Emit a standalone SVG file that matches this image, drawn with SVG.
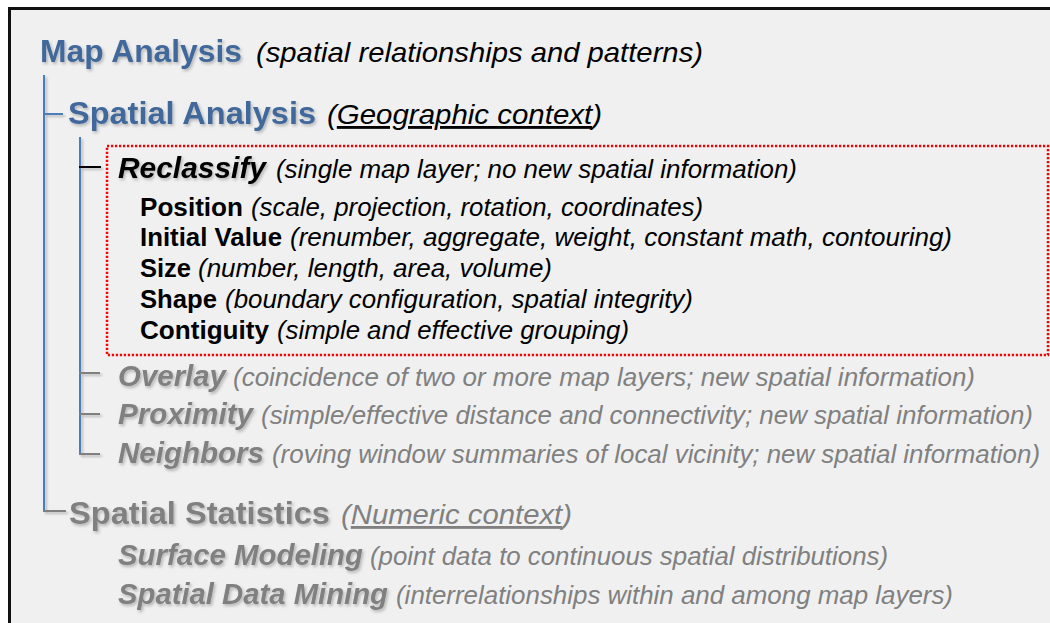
<svg xmlns="http://www.w3.org/2000/svg" width="1050" height="623" viewBox="0 0 1050 623">
<defs>
<filter id="sh" x="-5%" y="-20%" width="115%" height="160%">
<feDropShadow dx="1.5" dy="2" stdDeviation="1.5" flood-color="#000" flood-opacity="0.25"/>
</filter>
<filter id="lsh" x="-50%" y="-5%" width="300%" height="115%">
<feDropShadow dx="2" dy="2" stdDeviation="1" flood-color="#000" flood-opacity="0.22"/>
</filter>
<style>
text{font-family:"Liberation Sans",Arial,sans-serif;}
.h1{font-weight:bold;fill:#41689B;filter:url(#sh);}
.hk{font-weight:bold;font-style:italic;fill:#000;filter:url(#sh);}
.hb{font-weight:bold;fill:#000;}
.hg{font-weight:bold;font-style:italic;fill:#808080;filter:url(#sh);}
.hgs{font-weight:bold;fill:#808080;filter:url(#sh);}
.dk{font-style:italic;fill:#000;}
.dg{font-style:italic;fill:#808080;}
.u{text-decoration:underline;}
.lb{stroke:#4A7EBB;stroke-width:2;fill:none;}
.lk{stroke:#000;stroke-width:2;fill:none;}
.lg{stroke:#808080;stroke-width:2;fill:none;}
</style>
</defs>
<rect x="0" y="0" width="1050" height="623" fill="#fff"/>
<rect x="9.5" y="8.5" width="1060" height="630" fill="#F0F0F0" stroke="#111" stroke-width="3"/>

<g id="connectors" filter="url(#lsh)">
<line class="lb" x1="44" y1="75" x2="44" y2="511"/>
<line class="lb" x1="43" y1="114" x2="63" y2="114"/>
<line class="lg" x1="43" y1="511" x2="66" y2="511"/>
<line class="lb" x1="80" y1="137" x2="80" y2="454"/>
<line class="lk" x1="79" y1="167" x2="101" y2="167"/>
<line class="lg" x1="79" y1="373" x2="100" y2="373"/>
<line class="lg" x1="79" y1="414" x2="100" y2="414"/>
<line class="lg" x1="79" y1="454" x2="100" y2="454"/>
</g>

<g id="reclassify-box">
<rect x="107" y="146" width="941" height="209" fill="none" stroke="#FF0000" stroke-width="2.5" stroke-dasharray="2.2 1.8"/>
</g>

<g id="map-analysis">
<text class="h1" x="40" y="62" font-size="31.5" textLength="202" lengthAdjust="spacingAndGlyphs">Map Analysis</text>
<text class="dk" x="256" y="62" font-size="28" textLength="447" lengthAdjust="spacingAndGlyphs">(spatial relationships and patterns)</text>
</g>

<g id="spatial-analysis">
<text class="h1" x="68" y="124" font-size="32" textLength="248" lengthAdjust="spacingAndGlyphs">Spatial Analysis</text>
<text class="dk" x="327" y="124" font-size="28.5" textLength="275" lengthAdjust="spacingAndGlyphs">(<tspan class="u">Geographic context</tspan>)</text>
</g>

<g id="reclassify">
<text class="hk" x="118" y="178" font-size="29.5" textLength="148" lengthAdjust="spacingAndGlyphs">Reclassify</text>
<text class="dk" x="276" y="178" font-size="26" textLength="521" lengthAdjust="spacingAndGlyphs">(single map layer; no new spatial information)</text>
</g>

<g id="position">
<text class="hb" x="140" y="216" font-size="26" textLength="103" lengthAdjust="spacingAndGlyphs">Position</text>
<text class="dk" x="251" y="216" font-size="26" textLength="452" lengthAdjust="spacingAndGlyphs">(scale, projection, rotation, coordinates)</text>
</g>

<g id="initial-value">
<text class="hb" x="140" y="246" font-size="26" textLength="142" lengthAdjust="spacingAndGlyphs">Initial Value</text>
<text class="dk" x="290" y="246" font-size="26" textLength="662" lengthAdjust="spacingAndGlyphs">(renumber, aggregate, weight, constant math, contouring)</text>
</g>

<g id="size">
<text class="hb" x="140" y="277" font-size="26" textLength="51" lengthAdjust="spacingAndGlyphs">Size</text>
<text class="dk" x="198" y="277" font-size="26" textLength="354" lengthAdjust="spacingAndGlyphs">(number, length, area, volume)</text>
</g>

<g id="shape">
<text class="hb" x="140" y="308" font-size="26" textLength="77" lengthAdjust="spacingAndGlyphs">Shape</text>
<text class="dk" x="225" y="308" font-size="26" textLength="468" lengthAdjust="spacingAndGlyphs">(boundary configuration, spatial integrity)</text>
</g>

<g id="contiguity">
<text class="hb" x="140" y="339" font-size="26" textLength="129" lengthAdjust="spacingAndGlyphs">Contiguity</text>
<text class="dk" x="277" y="339" font-size="26" textLength="352" lengthAdjust="spacingAndGlyphs">(simple and effective grouping)</text>
</g>

<g id="overlay">
<text class="hg" x="118" y="386" font-size="29" textLength="108" lengthAdjust="spacingAndGlyphs">Overlay</text>
<text class="dg" x="233" y="386" font-size="26" textLength="742" lengthAdjust="spacingAndGlyphs">(coincidence of two or more map layers; new spatial information)</text>
</g>

<g id="proximity">
<text class="hg" x="118" y="424" font-size="29" textLength="135" lengthAdjust="spacingAndGlyphs">Proximity</text>
<text class="dg" x="261" y="424" font-size="26" textLength="772" lengthAdjust="spacingAndGlyphs">(simple/effective distance and connectivity; new spatial information)</text>
</g>

<g id="neighbors">
<text class="hg" x="118" y="463" font-size="29" textLength="146" lengthAdjust="spacingAndGlyphs">Neighbors</text>
<text class="dg" x="272" y="463" font-size="26" textLength="768" lengthAdjust="spacingAndGlyphs">(roving window summaries of local vicinity; new spatial information)</text>
</g>

<g id="spatial-statistics">
<text class="hgs" x="69" y="524" font-size="32" textLength="261" lengthAdjust="spacingAndGlyphs">Spatial Statistics</text>
<text class="dg" x="341" y="524" font-size="28.5" textLength="231" lengthAdjust="spacingAndGlyphs">(<tspan class="u">Numeric context</tspan>)</text>
</g>

<g id="surface-modeling">
<text class="hg" x="118" y="565" font-size="29" textLength="245" lengthAdjust="spacingAndGlyphs">Surface Modeling</text>
<text class="dg" x="370" y="565" font-size="26" textLength="518" lengthAdjust="spacingAndGlyphs">(point data to continuous spatial distributions)</text>
</g>

<g id="spatial-data-mining">
<text class="hg" x="118" y="604" font-size="29" textLength="270" lengthAdjust="spacingAndGlyphs">Spatial Data Mining</text>
<text class="dg" x="396" y="604" font-size="26" textLength="557" lengthAdjust="spacingAndGlyphs">(interrelationships within and among map layers)</text>
</g>
</svg>
